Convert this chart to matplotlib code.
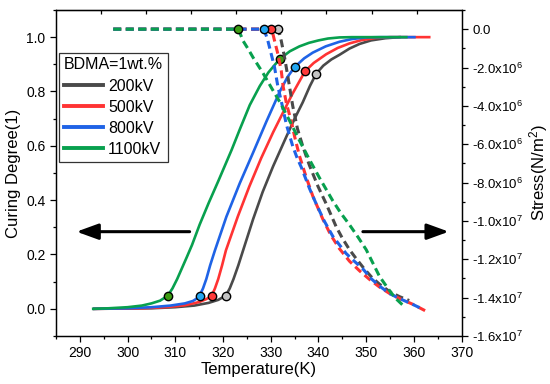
import matplotlib.pyplot as plt
from matplotlib.ticker import MultipleLocator

plt.rcParams["font.family"] = "Liberation Sans"
plt.rcParams["mathtext.default"] = "regular"

voltages = ["200kV", "500kV", "800kV", "1100kV"]
line_colors = ["#4a4a4a", "#ff3333", "#1f63e6", "#08a04e"]
marker_colors = ["#c4c4c4", "#ff3a3a", "#22a6f2", "#3c9c12"]

# curing degree (solid lines, left axis)
cure_T_200 = [293, 305, 310, 314, 317, 319, 320.6, 321.4, 322.2, 323.2, 324.2, 326.3, 328.3, 330.5, 333.3, 335, 336.7,
              338.2, 339.5, 341, 342.7, 344.4, 346.5, 348.6, 351, 354, 357]
cure_200 = [0, 0.002, 0.006, 0.012, 0.022, 0.033, 0.049, 0.075, 0.11, 0.16, 0.215, 0.33, 0.43, 0.525, 0.635, 0.7, 0.76,
            0.82, 0.865, 0.895, 0.918, 0.935, 0.958, 0.975, 0.988, 0.996, 1.0]
cure_T_500 = [293, 303, 308, 312, 315, 316.5, 317.6, 318.3, 319, 319.8, 320.6, 323.1, 325.5, 328.0, 330.5, 332.5, 334.5,
              337.2, 339, 341.6, 344, 346.5, 349, 352, 355, 363.2]
cure_500 = [0, 0.002, 0.006, 0.013, 0.025, 0.036, 0.047, 0.075, 0.11, 0.16, 0.215, 0.34, 0.45, 0.555, 0.65, 0.72, 0.79,
            0.875, 0.905, 0.937, 0.96, 0.977, 0.989, 0.997, 1.0, 1.0]
cure_T_800 = [293, 300, 305, 309, 312, 313.7, 314.5, 315.1, 315.8, 316.5, 317.3, 318.3, 320.7, 323.5, 326.3, 329.1,
              331.9, 333.5, 335.0, 337, 338.8, 341.5, 344.4, 347, 350, 353, 360.1]
cure_800 = [0, 0.002, 0.006, 0.012, 0.02, 0.029, 0.038, 0.049, 0.075, 0.11, 0.16, 0.215, 0.339, 0.462, 0.575, 0.69,
            0.8, 0.853, 0.89, 0.922, 0.943, 0.966, 0.983, 0.993, 0.999, 1.0, 1.0]
cure_T_1100 = [292.8, 296, 300, 303, 305, 306.8, 308.4, 309.4, 310.4, 311.4, 312.4, 313.5, 315.1, 317, 319, 321.8, 323.5,
               325.6, 327.7, 329.5, 331.9, 334, 336, 338, 340, 342, 344.4, 347, 358.4]
cure_1100 = [0, 0.002, 0.006, 0.012, 0.02, 0.03, 0.048, 0.075, 0.11, 0.15, 0.19, 0.235, 0.31, 0.39, 0.47, 0.585, 0.66,
             0.75, 0.82, 0.87, 0.92, 0.948, 0.966, 0.979, 0.988, 0.995, 0.999, 1.0, 1.0]

# stress (dashed lines, right axis), in 1e6 N/m^2
stress_T_200 = [297, 331.5, 331.9, 332.2, 332.9, 333.6, 334.6, 335.6, 336.7, 338.1, 339.9, 341.6, 343.7, 345, 346.5,
                348, 349.6, 351.2, 352.8, 355, 357, 359]
stress_200 = [0, 0, -0.3, -0.61, -1.48, -2.5, -4.0, -5.2, -6.1, -7.1, -8.2, -9.1, -10.3, -10.9, -11.5,
              -12.0, -12.5, -12.95, -13.3, -13.7, -13.95, -14.15]
stress_T_500 = [297, 330.1, 330.5, 330.8, 331.5, 332.2, 332.6, 333.3, 334.3, 335.0, 336, 337.4, 338.8, 340.9, 342.6,
                344.4, 346.5, 348.6, 350.7, 352.8, 355, 357, 359.8, 362.5]
stress_500 = [0, 0, -0.3, -0.61, -1.3, -2.17, -3.0, -3.9, -4.8, -5.6, -6.6, -7.7, -8.7, -9.9, -10.75,
              -11.45, -12.1, -12.6, -13.05, -13.45, -13.8, -14.05, -14.35, -14.7]
stress_T_800 = [297, 328.5, 329.0, 329.4, 330.1, 330.8, 331.5, 332.2, 333.3, 334.6, 335.5, 336.4, 338.1, 339.5, 341.2,
                343, 345.8, 347.5, 349.3, 351, 352.8, 355, 357, 359.3, 361.5]
stress_800 = [0, 0, -0.3, -0.61, -1.3, -2.0, -3.0, -3.75, -5.0, -6.1, -6.7, -7.2, -8.3, -9.1, -10.0,
              -10.8, -11.7, -12.1, -12.5, -13.0, -13.4, -13.8, -14.05, -14.3, -14.56]
stress_T_1100 = [297, 323.1, 323.7, 324.2, 325.3, 326.3, 328.4, 330.1, 331.9, 334, 336, 338.1, 340.2, 341.6, 343,
                 344.7, 346.5, 348.3, 350, 351.4, 352.8, 354.5, 356, 357.7]
stress_1100 = [0, 0, -0.3, -0.61, -1.05, -1.48, -2.3, -3.04, -3.8, -4.8, -5.8, -6.8, -7.75, -8.35, -8.95,
               -9.6, -10.2, -10.85, -11.5, -12.2, -12.9, -13.5, -14.0, -14.4]

# marked points
low_T = [320.6, 317.6, 315.1, 308.4]
low_cure = [0.049, 0.047, 0.049, 0.048]
high_T = [339.5, 337.2, 335.0, 331.9]
high_cure = [0.866, 0.876, 0.89, 0.92]
onset_T = [331.5, 330.1, 328.5, 323.1]
onset_stress = [0, 0, 0, 0]

right_ticks = [0, -2e6, -4e6, -6e6, -8e6, -1e7, -1.2e7, -1.4e7, -1.6e7]
right_labels = ["0.0", "-2.0x10$^{6}$", "-4.0x10$^{6}$", "-6.0x10$^{6}$", "-8.0x10$^{6}$",
                "-1.0x10$^{7}$", "-1.2x10$^{7}$", "-1.4x10$^{7}$", "-1.6x10$^{7}$"]

cure_T = [cure_T_200, cure_T_500, cure_T_800, cure_T_1100]
cure = [cure_200, cure_500, cure_800, cure_1100]
stress_T = [stress_T_200, stress_T_500, stress_T_800, stress_T_1100]
stress = [stress_200, stress_500, stress_800, stress_1100]

fig = plt.figure(figsize=(5.5, 3.84), dpi=100)
ax = fig.add_axes([0.1018, 0.125, 0.7376, 0.849])
ax2 = ax.twinx()

for i in range(4):
    ax.plot(cure_T[i], cure[i], color=line_colors[i], lw=1.9, label=voltages[i], zorder=2)
    ax2.plot(stress_T[i], [s * 1e6 for s in stress[i]], color=line_colors[i], lw=2.2,
             linestyle=(0, (2.6, 1.5)), zorder=2)

for i in range(4):
    ax.plot(low_T[i], low_cure[i], "o", ms=6, mfc=marker_colors[i], mec="black", mew=1, zorder=5)
    ax.plot(high_T[i], high_cure[i], "o", ms=6, mfc=marker_colors[i], mec="black", mew=1, zorder=5)
    ax2.plot(onset_T[i], onset_stress[i], "o", ms=6, mfc=marker_colors[i], mec="black", mew=1, zorder=5)

# direction arrows
arrow = dict(arrowstyle="-|>,head_length=1.1,head_width=0.4", lw=2.2, color="black",
             shrinkA=0, shrinkB=0, mutation_scale=12)
ax.annotate("", xy=(289.3, 0.284), xytext=(313.0, 0.284), arrowprops=arrow)
ax.annotate("", xy=(367.3, 0.284), xytext=(349.3, 0.284), arrowprops=arrow)

ax.set_xlim(285, 370)
ax.set_ylim(-0.1, 1.1)
ax2.set_ylim(-1.6e7, 1.0e6)

ax.xaxis.set_minor_locator(MultipleLocator(5))
ax.yaxis.set_minor_locator(MultipleLocator(0.1))
ax.set_yticks([0, 0.2, 0.4, 0.6, 0.8, 1.0])
ax.set_yticklabels(["0.0", "0.2", "0.4", "0.6", "0.8", "1.0"])
ax.set_xticks(range(290, 371, 10))

ax2.set_yticks(right_ticks)
ax2.set_yticklabels(right_labels)
ax2.yaxis.set_minor_locator(MultipleLocator(1e6))

ax.tick_params(which="both", direction="out", labelsize=10, top=False, right=False)
ax.tick_params(which="major", length=4, width=0.9)
ax.tick_params(which="minor", length=2.5, width=0.9)
ax2.tick_params(which="both", direction="out", labelsize=9.5, width=0.9)
ax2.tick_params(which="major", length=4)
ax2.tick_params(which="minor", length=2.5)

top = ax.secondary_xaxis("top", functions=(lambda t: (t - 285) / 85 * 9, lambda u: 285 + u * 85 / 9))
top.set_xticks(range(1, 9))
top.tick_params(direction="in", length=3, width=0.9, labeltop=False)

for a in (ax, ax2):
    for sp in a.spines.values():
        sp.set_linewidth(0.9)

ax.set_xlabel("Temperature(K)", fontsize=12, labelpad=1)
ax.set_ylabel("Curing Degree(1)", fontsize=12, labelpad=4)
ax2.set_ylabel("Stress(N/m$^{2}$)", fontsize=12, labelpad=3)

leg = ax.legend(title="BDMA=1wt.%", loc="upper left", bbox_to_anchor=(0.008, 0.869),
                borderaxespad=0, fontsize=11.5, title_fontsize=11.5, frameon=True,
                fancybox=False, edgecolor="black", labelspacing=0.38, handlelength=2.45,
                handletextpad=0.3, borderpad=0.3, alignment="left")
leg.get_frame().set_linewidth(0.9)
for line in leg.get_lines():
    line.set_linewidth(2.8)

fig.savefig("out.png", dpi=100)
